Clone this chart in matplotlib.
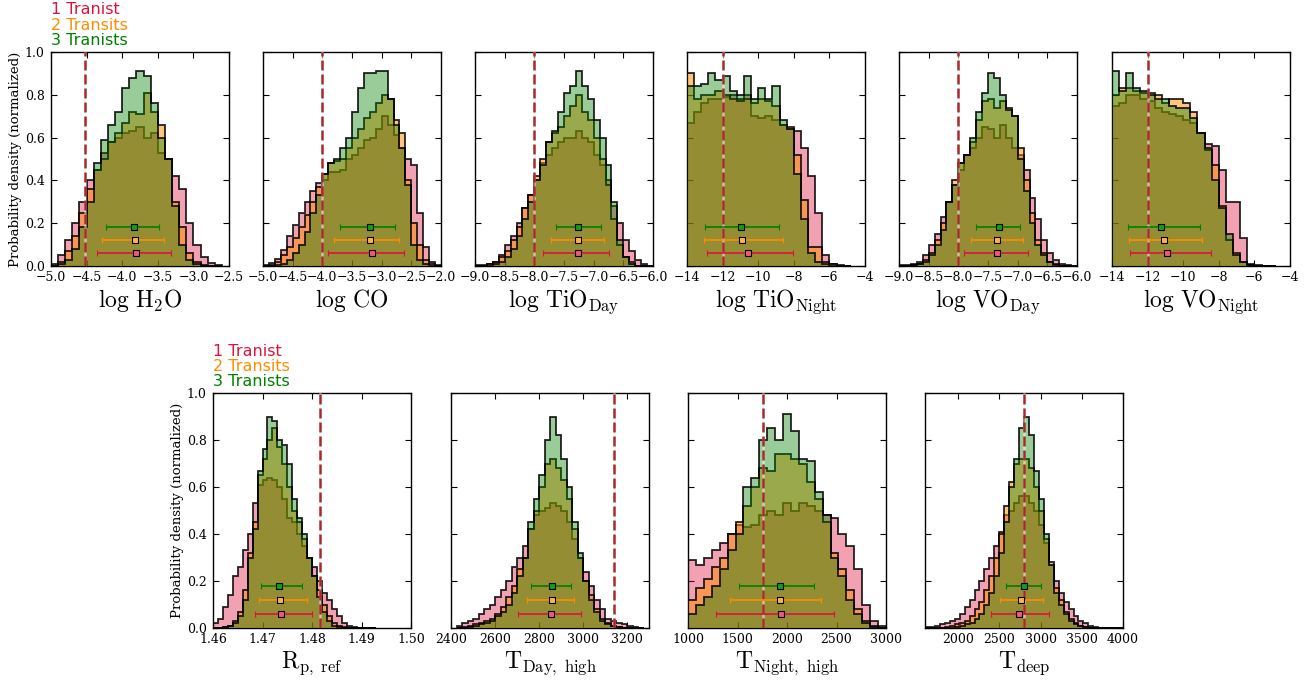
import numpy as np
import matplotlib
matplotlib.use("Agg")
import matplotlib.pyplot as plt

plt.rcParams['font.family'] = 'serif'
plt.rcParams['font.serif'] = ['DejaVu Serif']
plt.rcParams['mathtext.fontset'] = 'cm'
plt.rcParams['axes.unicode_minus'] = True

# ---------------- data (histogram heights) ----------------
series_names = ["1 Tranist", "2 Transits", "3 Tranists"]

# log H2O, bins of 0.1 starting at -5.0
h2o_start, h2o_width = -5.0, 0.1
h2o_1 = [0.01, 0.05, 0.12, 0.2, 0.3, 0.4, 0.45, 0.53, 0.58, 0.6, 0.62, 0.63, 0.65, 0.6, 0.62, 0.53, 0.5, 0.42, 0.36, 0.2, 0.1, 0.04, 0.015, 0.005]
h2o_2 = [0.0, 0.02, 0.07, 0.14, 0.25, 0.36, 0.45, 0.5, 0.58, 0.62, 0.67, 0.72, 0.71, 0.81, 0.72, 0.66, 0.5, 0.3, 0.18, 0.06, 0.02, 0.005, 0.0, 0.0]
h2o_3 = [0.0, 0.01, 0.03, 0.08, 0.18, 0.3, 0.48, 0.59, 0.66, 0.72, 0.83, 0.88, 0.91, 0.89, 0.76, 0.6, 0.5, 0.28, 0.1, 0.03, 0.01, 0.0, 0.0, 0.0]
h2o_truth = -4.52
h2o_med = [-3.81, -3.82, -3.83]
h2o_lo = [-4.35, -4.28, -4.23]
h2o_hi = [-3.31, -3.41, -3.48]

# log CO
co_start, co_width = -5.0, 0.1
co_1 = [0.005, 0.015, 0.035, 0.075, 0.14, 0.19, 0.25, 0.3, 0.35, 0.39, 0.4, 0.44, 0.44, 0.45, 0.5, 0.52, 0.55, 0.59, 0.6, 0.64, 0.7, 0.66, 0.61, 0.55, 0.5, 0.47, 0.25, 0.09, 0.02, 0.005]
co_2 = [0.0, 0.005, 0.02, 0.05, 0.09, 0.13, 0.18, 0.24, 0.3, 0.37, 0.43, 0.48, 0.49, 0.5, 0.55, 0.6, 0.64, 0.69, 0.72, 0.76, 0.8, 0.78, 0.68, 0.62, 0.4, 0.2, 0.1, 0.03, 0.01, 0.0]
co_3 = [0.0, 0.0, 0.005, 0.01, 0.03, 0.06, 0.1, 0.16, 0.25, 0.33, 0.43, 0.48, 0.5, 0.55, 0.6, 0.72, 0.83, 0.9, 0.9, 0.91, 0.91, 0.78, 0.66, 0.55, 0.38, 0.1, 0.03, 0.01, 0.0, 0.0]
co_truth = -4.0
co_med = [-3.16, -3.19, -3.19]
co_lo = [-3.9, -3.8, -3.71]
co_hi = [-2.62, -2.7, -2.77]

# log TiO day
tiod_start, tiod_width = -9.0, 0.1
tiod_1 = [0.005, 0.005, 0.01, 0.02, 0.05, 0.1, 0.14, 0.2, 0.27, 0.33, 0.4, 0.48, 0.52, 0.55, 0.58, 0.6, 0.6, 0.63, 0.6, 0.58, 0.52, 0.47, 0.4, 0.28, 0.2, 0.12, 0.07, 0.03, 0.01, 0.0]
tiod_2 = [0.0, 0.0, 0.01, 0.02, 0.04, 0.07, 0.12, 0.18, 0.27, 0.33, 0.42, 0.5, 0.58, 0.62, 0.65, 0.7, 0.75, 0.8, 0.72, 0.68, 0.6, 0.5, 0.38, 0.22, 0.1, 0.04, 0.02, 0.0, 0.0, 0.0]
tiod_3 = [0.0, 0.0, 0.0, 0.01, 0.02, 0.04, 0.08, 0.14, 0.22, 0.3, 0.4, 0.47, 0.58, 0.63, 0.72, 0.81, 0.84, 0.91, 0.84, 0.78, 0.68, 0.6, 0.47, 0.3, 0.12, 0.04, 0.01, 0.0, 0.0, 0.0]
tiod_truth = -8.0
tiod_med = [-7.27, -7.26, -7.26]
tiod_lo = [-7.85, -7.72, -7.64]
tiod_hi = [-6.74, -6.83, -6.88]

# log TiO night, bins of 0.4 starting at -14
tion_start, tion_width = -14.0, 0.4
tion_1 = [0.67, 0.72, 0.76, 0.78, 0.78, 0.79, 0.8, 0.78, 0.8, 0.7, 0.69, 0.7, 0.68, 0.66, 0.64, 0.63, 0.55, 0.42, 0.25, 0.05, 0.01, 0.005, 0.0]
tion_2 = [0.9, 0.78, 0.8, 0.8, 0.82, 0.8, 0.78, 0.77, 0.78, 0.76, 0.78, 0.77, 0.75, 0.66, 0.65, 0.52, 0.31, 0.09, 0.09, 0.02, 0.01, 0.0, 0.0]
tion_3 = [0.84, 0.84, 0.85, 0.9, 0.87, 0.89, 0.82, 0.8, 0.89, 0.78, 0.83, 0.78, 0.84, 0.68, 0.64, 0.43, 0.22, 0.06, 0.02, 0.01, 0.0, 0.0, 0.0]
tion_truth = -12.0
tion_med = [-10.6, -10.89, -10.98]
tion_lo = [-12.87, -13.06, -13.0]
tion_hi = [-8.07, -8.6, -8.82]

# log VO day
vod_start, vod_width = -9.0, 0.1
vod_1 = [0.005, 0.005, 0.01, 0.02, 0.05, 0.1, 0.15, 0.23, 0.3, 0.38, 0.45, 0.52, 0.55, 0.6, 0.65, 0.64, 0.6, 0.66, 0.6, 0.55, 0.52, 0.45, 0.32, 0.22, 0.12, 0.06, 0.03, 0.01, 0.005, 0.0]
vod_2 = [0.0, 0.0, 0.005, 0.01, 0.03, 0.06, 0.12, 0.2, 0.3, 0.4, 0.48, 0.52, 0.58, 0.68, 0.77, 0.78, 0.74, 0.77, 0.74, 0.7, 0.55, 0.4, 0.25, 0.12, 0.06, 0.02, 0.01, 0.0, 0.0, 0.0]
vod_3 = [0.0, 0.0, 0.005, 0.01, 0.02, 0.05, 0.1, 0.17, 0.3, 0.38, 0.48, 0.52, 0.6, 0.72, 0.81, 0.9, 0.88, 0.8, 0.73, 0.7, 0.5, 0.35, 0.2, 0.1, 0.05, 0.02, 0.005, 0.0, 0.0, 0.0]
vod_truth = -8.0
vod_med = [-7.34, -7.34, -7.32]
vod_lo = [-7.9, -7.79, -7.7]
vod_hi = [-6.83, -6.91, -6.96]

# log VO night
von_start, von_width = -14.0, 0.4
von_1 = [0.75, 0.76, 0.8, 0.8, 0.78, 0.77, 0.74, 0.72, 0.71, 0.7, 0.68, 0.67, 0.62, 0.57, 0.56, 0.45, 0.3, 0.3, 0.13, 0.01, 0.005, 0.0, 0.0]
von_2 = [0.8, 0.83, 0.83, 0.82, 0.81, 0.81, 0.8, 0.76, 0.78, 0.78, 0.76, 0.72, 0.62, 0.54, 0.47, 0.28, 0.12, 0.06, 0.02, 0.005, 0.0, 0.0, 0.0]
von_3 = [0.91, 0.82, 0.9, 0.83, 0.82, 0.8, 0.78, 0.78, 0.75, 0.74, 0.74, 0.69, 0.62, 0.55, 0.4, 0.27, 0.15, 0.05, 0.02, 0.005, 0.0, 0.0, 0.0]
von_truth = -12.0
von_med = [-10.9, -11.07, -11.22]
von_lo = [-12.97, -13.06, -13.12]
von_hi = [-8.45, -8.92, -9.06]

# R_p,ref
rp_start, rp_width = 1.46, 0.001
rp_1 = [0.02, 0.04, 0.09, 0.14, 0.22, 0.26, 0.33, 0.4, 0.53, 0.61, 0.63, 0.64, 0.63, 0.6, 0.55, 0.47, 0.45, 0.4, 0.35, 0.3, 0.26, 0.2, 0.15, 0.12, 0.08, 0.05, 0.02, 0.01, 0.005, 0.0, 0.0, 0.0, 0.0]
rp_2 = [0.0, 0.0, 0.005, 0.01, 0.03, 0.07, 0.16, 0.32, 0.45, 0.65, 0.72, 0.8, 0.85, 0.77, 0.7, 0.6, 0.5, 0.45, 0.38, 0.3, 0.22, 0.16, 0.1, 0.05, 0.02, 0.01, 0.005, 0.0, 0.0, 0.0, 0.0, 0.0, 0.0]
rp_3 = [0.0, 0.0, 0.005, 0.01, 0.02, 0.05, 0.12, 0.3, 0.42, 0.67, 0.76, 0.9, 0.88, 0.8, 0.78, 0.7, 0.55, 0.47, 0.4, 0.3, 0.22, 0.13, 0.07, 0.03, 0.01, 0.005, 0.0, 0.0, 0.0, 0.0, 0.0, 0.0, 0.0]
rp_truth = 1.4816
rp_med = [1.4738, 1.4735, 1.4733]
rp_lo = [1.4684, 1.4693, 1.4696]
rp_hi = [1.4801, 1.4789, 1.4779]

# T day, high
tday_start, tday_width = 2425, 25
tday_1 = [0.01, 0.02, 0.03, 0.04, 0.06, 0.08, 0.1, 0.13, 0.16, 0.2, 0.26, 0.3, 0.35, 0.42, 0.48, 0.5, 0.51, 0.53, 0.52, 0.5, 0.45, 0.38, 0.3, 0.24, 0.18, 0.12, 0.08, 0.04, 0.03, 0.02, 0.015, 0.01, 0.005, 0.0]
tday_2 = [0.0, 0.005, 0.01, 0.015, 0.02, 0.03, 0.04, 0.06, 0.09, 0.13, 0.18, 0.25, 0.3, 0.42, 0.5, 0.6, 0.7, 0.72, 0.68, 0.63, 0.55, 0.42, 0.3, 0.2, 0.14, 0.08, 0.04, 0.02, 0.01, 0.005, 0.0, 0.0, 0.0, 0.0]
tday_3 = [0.0, 0.0, 0.005, 0.01, 0.015, 0.02, 0.03, 0.05, 0.07, 0.1, 0.15, 0.22, 0.3, 0.45, 0.55, 0.65, 0.8, 0.9, 0.82, 0.72, 0.6, 0.45, 0.32, 0.2, 0.12, 0.07, 0.03, 0.015, 0.01, 0.005, 0.0, 0.0, 0.0, 0.0]
tday_truth = 3143
tday_med = [2854, 2860, 2858]
tday_lo = [2704, 2745, 2765]
tday_hi = [2990, 2961, 2945]

# T night, high
tnight_start, tnight_width = 1000, 80
tnight_1 = [0.29, 0.27, 0.3, 0.33, 0.36, 0.4, 0.44, 0.43, 0.44, 0.48, 0.5, 0.48, 0.53, 0.5, 0.53, 0.52, 0.5, 0.48, 0.47, 0.4, 0.35, 0.25, 0.1, 0.03, 0.01]
tnight_2 = [0.12, 0.17, 0.21, 0.26, 0.3, 0.4, 0.45, 0.52, 0.6, 0.68, 0.67, 0.74, 0.74, 0.72, 0.7, 0.62, 0.55, 0.45, 0.32, 0.25, 0.16, 0.08, 0.03, 0.01, 0.0]
tnight_3 = [0.06, 0.1, 0.13, 0.18, 0.25, 0.33, 0.4, 0.6, 0.64, 0.8, 0.85, 0.8, 0.91, 0.84, 0.72, 0.71, 0.58, 0.48, 0.3, 0.22, 0.12, 0.06, 0.02, 0.005, 0.0]
tnight_truth = 1757
tnight_med = [1943, 1926, 1933]
tnight_lo = [1283, 1421, 1512]
tnight_hi = [2478, 2347, 2276]

# T deep
tdeep_start, tdeep_width = 1600, 60
tdeep_1 = [0.005, 0.005, 0.01, 0.015, 0.02, 0.03, 0.04, 0.06, 0.09, 0.12, 0.16, 0.2, 0.25, 0.3, 0.35, 0.41, 0.48, 0.5, 0.53, 0.56, 0.56, 0.53, 0.5, 0.44, 0.36, 0.27, 0.2, 0.15, 0.11, 0.08, 0.05, 0.03, 0.02, 0.01, 0.005, 0.0, 0.0, 0.0, 0.0, 0.0]
tdeep_2 = [0.0, 0.0, 0.0, 0.0, 0.005, 0.01, 0.015, 0.02, 0.03, 0.05, 0.08, 0.11, 0.16, 0.22, 0.3, 0.4, 0.52, 0.62, 0.7, 0.72, 0.72, 0.68, 0.6, 0.5, 0.38, 0.28, 0.17, 0.12, 0.07, 0.04, 0.02, 0.01, 0.005, 0.0, 0.0, 0.0, 0.0, 0.0, 0.0, 0.0]
tdeep_3 = [0.0, 0.0, 0.0, 0.0, 0.0, 0.0, 0.005, 0.01, 0.015, 0.02, 0.04, 0.06, 0.1, 0.15, 0.22, 0.32, 0.45, 0.6, 0.72, 0.85, 0.9, 0.82, 0.67, 0.55, 0.4, 0.27, 0.15, 0.1, 0.06, 0.03, 0.015, 0.01, 0.005, 0.0, 0.0, 0.0, 0.0, 0.0, 0.0, 0.0]
tdeep_truth = 2800
tdeep_med = [2741, 2765, 2794]
tdeep_lo = [2401, 2510, 2579]
tdeep_hi = [3101, 3032, 3000]

# ---------------- panel definitions ----------------
top_panels = [
    (r'$\mathrm{log\ H_2O}$', h2o_start, h2o_width, [h2o_1, h2o_2, h2o_3], h2o_truth, h2o_med, h2o_lo, h2o_hi,
     (-5.0, -2.5), np.arange(-5.0, -2.49, 0.5), '%.1f'),
    (r'$\mathrm{log\ CO}$', co_start, co_width, [co_1, co_2, co_3], co_truth, co_med, co_lo, co_hi,
     (-5.0, -2.0), np.arange(-5.0, -1.99, 0.5), '%.1f'),
    (r'$\mathrm{log\ TiO_{Day}}$', tiod_start, tiod_width, [tiod_1, tiod_2, tiod_3], tiod_truth, tiod_med, tiod_lo, tiod_hi,
     (-9.0, -6.0), np.arange(-9.0, -5.99, 0.5), '%.1f'),
    (r'$\mathrm{log\ TiO_{Night}}$', tion_start, tion_width, [tion_1, tion_2, tion_3], tion_truth, tion_med, tion_lo, tion_hi,
     (-14, -4), np.arange(-14, -3, 2), '%d'),
    (r'$\mathrm{log\ VO_{Day}}$', vod_start, vod_width, [vod_1, vod_2, vod_3], vod_truth, vod_med, vod_lo, vod_hi,
     (-9.0, -6.0), np.arange(-9.0, -5.99, 0.5), '%.1f'),
    (r'$\mathrm{log\ VO_{Night}}$', von_start, von_width, [von_1, von_2, von_3], von_truth, von_med, von_lo, von_hi,
     (-14, -4), np.arange(-14, -3, 2), '%d'),
]
bottom_panels = [
    (r'$\mathrm{R_{p,\ ref}}$', rp_start, rp_width, [rp_1, rp_2, rp_3], rp_truth, rp_med, rp_lo, rp_hi,
     (1.46, 1.50), np.arange(1.46, 1.5001, 0.01), '%.2f'),
    (r'$\mathrm{T_{Day,\ high}}$', tday_start, tday_width, [tday_1, tday_2, tday_3], tday_truth, tday_med, tday_lo, tday_hi,
     (2400, 3300), np.arange(2400, 3201, 200), '%d'),
    (r'$\mathrm{T_{Night,\ high}}$', tnight_start, tnight_width, [tnight_1, tnight_2, tnight_3], tnight_truth, tnight_med, tnight_lo, tnight_hi,
     (1000, 3000), np.arange(1000, 3001, 500), '%d'),
    (r'$\mathrm{T_{deep}}$', tdeep_start, tdeep_width, [tdeep_1, tdeep_2, tdeep_3], tdeep_truth, tdeep_med, tdeep_lo, tdeep_hi,
     (1600, 4000), np.arange(2000, 4001, 500), '%d'),
]

fill_colors = [(0.863, 0.078, 0.235, 0.4), (1.0, 0.549, 0.0, 0.5), (0.0, 0.5, 0.0, 0.4)]
bar_colors = ['crimson', 'darkorange', 'green']
marker_colors = ['#F0587A', '#FFB347', '#10A010']
text_colors = ['crimson', 'darkorange', 'green']
bar_y = [0.06, 0.12, 0.18]

W, H = 1308, 685
fig = plt.figure(figsize=(W / 100, H / 100), dpi=100)


def draw_panel(rect, spec, first):
    label, start, width, series, truth, med, lo, hi, xlim, xticks, fmt = spec
    ax = fig.add_axes(rect)
    for i, vals in enumerate(series):
        edges = start + width * np.arange(len(vals) + 1)
        ax.stairs(vals, edges, fill=True, facecolor=fill_colors[i],
                  edgecolor=(0, 0, 0, 0.85), lw=1.3, zorder=2 + i)
    ax.axvline(truth, color='white', lw=1.8, alpha=0.5, zorder=6)
    ax.axvline(truth, color='#A52A2A', lw=1.8, ls=(0, (4, 1.6)), zorder=7)
    for i in range(3):
        ax.errorbar(med[i], bar_y[i], xerr=[[med[i] - lo[i]], [hi[i] - med[i]]],
                    fmt='s', color=bar_colors[i], mfc=marker_colors[i], mec='k',
                    ms=4.5, mew=0.8, capsize=2, elinewidth=1.2, capthick=1.0, zorder=8)
    ax.set_xlim(*xlim)
    ax.set_ylim(0, 1.0)
    ax.set_xticks(xticks)
    ax.set_xticklabels([(fmt % t).replace('-', '\u2212') for t in xticks])
    ax.set_yticks(np.arange(0, 1.01, 0.2))
    ax.tick_params(direction='in', top=True, right=True, length=4, width=0.8, labelsize=9)
    ax.tick_params(axis='x', pad=3.8)
    ax.tick_params(axis='y', pad=4.5)
    for s in ax.spines.values():
        s.set_linewidth(1.0)
    ax.set_xlabel(label, fontsize=17, labelpad=2)
    if first:
        ax.set_ylabel('Probability density (normalized)', fontsize=9.5, labelpad=2)
        for i in range(3):
            ax.annotate(series_names[i], xy=(0, 1), xycoords='axes fraction',
                        xytext=(0, 5 + 11 * (2 - i)), textcoords='offset points',
                        color=text_colors[i], fontsize=11.5, family='DejaVu Sans',
                        va='baseline', ha='left')
    else:
        ax.tick_params(labelleft=False)
    return ax


top_lefts = [51, 263, 475, 687, 899, 1112]
for k, spec in enumerate(top_panels):
    rect = [top_lefts[k] / W, (H - 266) / H, 178 / W, 214 / H]
    draw_panel(rect, spec, k == 0)

bottom_lefts = [213, 451, 688, 925]
for k, spec in enumerate(bottom_panels):
    rect = [bottom_lefts[k] / W, (H - 628) / H, 198 / W, 235 / H]
    draw_panel(rect, spec, k == 0)

plt.savefig('out.png', dpi=100)
